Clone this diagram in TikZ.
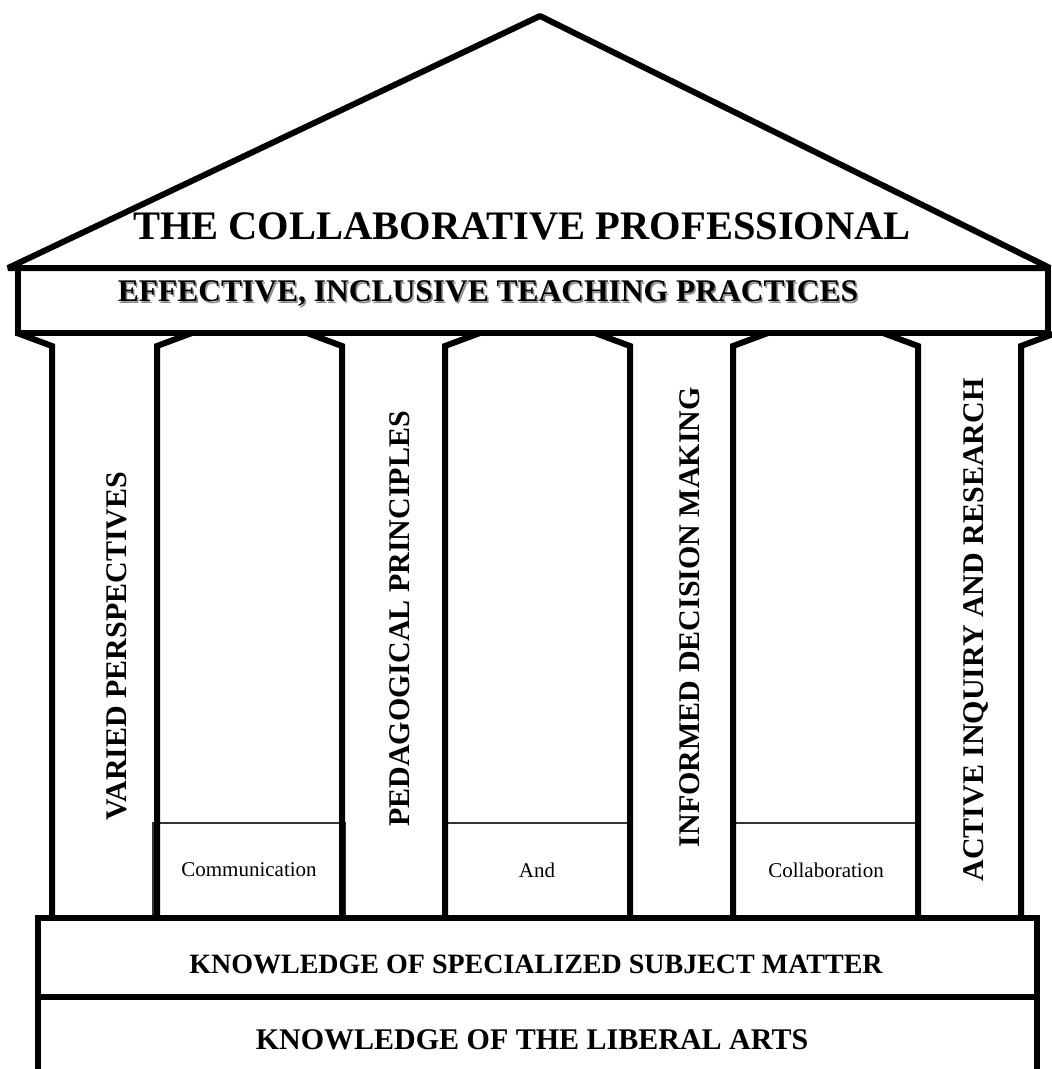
\documentclass[tikz,border=0pt]{standalone}
\usepackage{fontspec}
\setmainfont{Liberation Serif}
\begin{document}
\begin{tikzpicture}[x=1pt,y=-1pt,
  heavy/.style={line width=6pt, line join=miter, line cap=butt},
  thinbox/.style={draw=black!80, line width=1.2pt},
  bannertext/.style={font=\fontsize{31.5}{36}\selectfont\bfseries, inner sep=0pt},
  basetext/.style={font=\fontsize{28}{32}\selectfont\bfseries, inner sep=0pt},
  pillartext/.style={font=\fontsize{30}{34}\selectfont\bfseries, rotate=90, inner sep=0pt},
  smalltext/.style={font=\fontsize{21}{24}\selectfont, inner sep=0pt}]
\useasboundingbox (0,0) rectangle (1052,1069);
\clip (0,0) rectangle (1052,1069);

% roof
\draw[heavy, line join=bevel] (8,268) -- (540,16) -- (1050,268) -- cycle;
\node[font=\fontsize{40.5}{48}\selectfont\bfseries, inner sep=0pt] (title) at (522,226) {THE COLLABORATIVE PROFESSIONAL};

% entablature with shadowed lettering
\draw[heavy] (18,268) rectangle (1048,333);
\node[bannertext, text=black!45] (practicesshadow) at (489.5,295.5) {EFFECTIVE, INCLUSIVE TEACHING PRACTICES};
\node[bannertext] (practices) at (488,294) {EFFECTIVE, INCLUSIVE TEACHING PRACTICES};

% small panels between the pillars
\draw[thinbox] (153,823) rectangle (345,918);
\node[smalltext] (communication) at (249,870) {Communication};
\draw[thinbox] (443,823) rectangle (632,918);
\node[smalltext] (and) at (537,870) {And};
\draw[thinbox] (731,823) rectangle (920,918);
\node[smalltext] (collaboration) at (826,870) {Collaboration};

% pillars with flared capitals
\foreach \l/\r in {52/157, 342/445, 630/733, 918/1021} {
  \draw[heavy] ({\l-35},333) -- (\l,346) -- (\l,918);
  \draw[heavy] ({\r+35},333) -- (\r,346) -- (\r,918);
}
\node[pillartext] (varied) at (117,646) {VARIED PERSPECTIVES};
\node[pillartext] (pedagogical) at (400,619) {PEDAGOGICAL PRINCIPLES};
\node[pillartext] (informed) at (690,617) {INFORMED DECISION MAKING};
\node[pillartext] (active) at (976,630) {ACTIVE INQUIRY AND RESEARCH};

% foundation steps
\draw[heavy] (38,918) rectangle (1037,997);
\node[basetext] (specialized) at (536,964) {KNOWLEDGE OF SPECIALIZED SUBJECT MATTER};
\draw[heavy] (38,1080) -- (38,997) -- (1037,997) -- (1037,1080);
\node[basetext, font=\fontsize{30}{34}\selectfont\bfseries] (liberal) at (532,1040) {KNOWLEDGE OF THE LIBERAL ARTS};
\end{tikzpicture}
\end{document}
